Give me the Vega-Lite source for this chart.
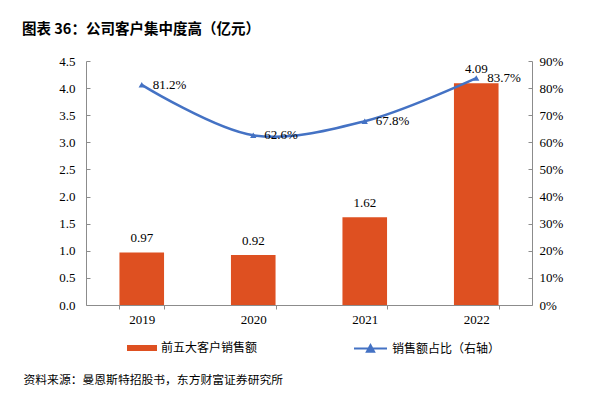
{
  "$schema": "https://vega.github.io/schema/vega-lite/v6.json",
  "width": 446,
  "height": 244,
  "autosize": {"type": "none"},
  "padding": {"left": 86, "top": 61, "right": 78, "bottom": 90},
  "background": "white",
  "title": {
    "text": "图表 36：公司客户集中度高（亿元）",
    "anchor": "start",
    "frame": "group",
    "dx": -64,
    "offset": 18,
    "font": "Noto Sans CJK SC",
    "fontSize": 14.5,
    "fontWeight": "bold",
    "color": "#000000"
  },
  "data": {
    "values": [
      {"year": "2019", "sales": 0.97, "share": 0.812},
      {"year": "2020", "sales": 0.92, "share": 0.626},
      {"year": "2021", "sales": 1.62, "share": 0.678},
      {"year": "2022", "sales": 4.09, "share": 0.837}
    ]
  },
  "config": {
    "view": {"stroke": null},
    "axis": {
      "grid": false,
      "domainColor": "#8c8c8c",
      "tickColor": "#8c8c8c",
      "labelFont": "Liberation Serif",
      "labelFontSize": 13,
      "labelColor": "#000000",
      "tickSize": 4
    }
  },
  "encoding": {
    "x": {
      "field": "year",
      "type": "nominal",
      "scale": {"paddingInner": 0.6, "paddingOuter": 0.3},
      "axis": {
        "labelAngle": 0,
        "tickBand": "extent",
        "labelPadding": 4,
        "title": "资料来源：曼恩斯特招股书，东方财富证券研究所",
        "titleFont": "Noto Sans CJK SC",
        "titleFontSize": 11.8,
        "titleFontWeight": "normal",
        "titleColor": "#000000",
        "titleAnchor": "start",
        "titleAlign": "left",
        "titleBaseline": "alphabetic",
        "titleX": -63,
        "titleY": 78
      }
    }
  },
  "layer": [
    {
      "encoding": {
        "y": {
          "field": "sales",
          "type": "quantitative",
          "scale": {"domain": [0, 4.5]},
          "axis": {
            "title": null,
            "orient": "left",
            "values": [0, 0.5, 1, 1.5, 2, 2.5, 3, 3.5, 4, 4.5],
            "format": ".1f",
            "tickSize": -4,
            "labelPadding": 15
          }
        }
      },
      "layer": [
        {
          "mark": {"type": "bar"},
          "encoding": {
            "color": {
              "datum": "前五大客户销售额",
              "scale": {"range": ["#DE5021"]},
              "legend": {
                "title": null,
                "orient": "none",
                "legendX": 41,
                "legendY": 272,
                "symbolType": "M-1,-0.2H1V0.2H-1Z",
                "symbolSize": 900,
                "symbolStrokeWidth": 0,
                "labelFont": "Noto Sans CJK SC",
                "labelFontSize": 12,
                "labelColor": "#000000",
                "labelOffset": 4,
                "labelLimit": 300
              }
            }
          }
        },
        {
          "mark": {
            "type": "text",
            "dy": -14,
            "baseline": "middle",
            "font": "Liberation Serif",
            "fontSize": 13,
            "color": "#000000"
          },
          "encoding": {
            "text": {"field": "sales", "type": "quantitative", "format": ".2f"}
          }
        }
      ]
    },
    {
      "encoding": {
        "y": {
          "field": "share",
          "type": "quantitative",
          "scale": {"domain": [0, 0.9]},
          "axis": {
            "title": null,
            "orient": "right",
            "values": [0, 0.1, 0.2, 0.3, 0.4, 0.5, 0.6, 0.7, 0.8, 0.9],
            "format": ".0%",
            "tickSize": -4,
            "labelPadding": 11
          }
        }
      },
      "layer": [
        {
          "mark": {"type": "line", "interpolate": "catmull-rom", "strokeWidth": 2.5},
          "encoding": {
            "stroke": {
              "datum": "销售额占比（右轴）",
              "scale": {"range": ["#4472C4"]},
              "legend": {
                "title": null,
                "orient": "none",
                "legendX": 267,
                "legendY": 270,
                "symbolType": "M-1,0H1M-0.22,0.2L0,-0.2L0.22,0.2Z",
                "symbolSize": 1089,
                "symbolStrokeWidth": 2,
                "symbolFillColor": "#4472C4",
                "labelFont": "Noto Sans CJK SC",
                "labelFontSize": 12,
                "labelColor": "#000000",
                "labelOffset": 4,
                "labelLimit": 300,
                "encode": {"symbols": {"update": {"fill": {"value": "#4472C4"}, "stroke": {"value": "#4472C4"}}}}
              }
            }
          }
        },
        {
          "mark": {"type": "point", "shape": "triangle-up", "filled": true, "size": 40, "color": "#4472C4", "opacity": 1}
        },
        {
          "mark": {
            "type": "text",
            "dx": 11,
            "align": "left",
            "baseline": "middle",
            "font": "Liberation Serif",
            "fontSize": 13,
            "color": "#000000"
          },
          "encoding": {
            "text": {"field": "share", "type": "quantitative", "format": ".1%"}
          }
        }
      ]
    }
  ],
  "resolve": {"scale": {"y": "independent", "color": "independent"}}
}
